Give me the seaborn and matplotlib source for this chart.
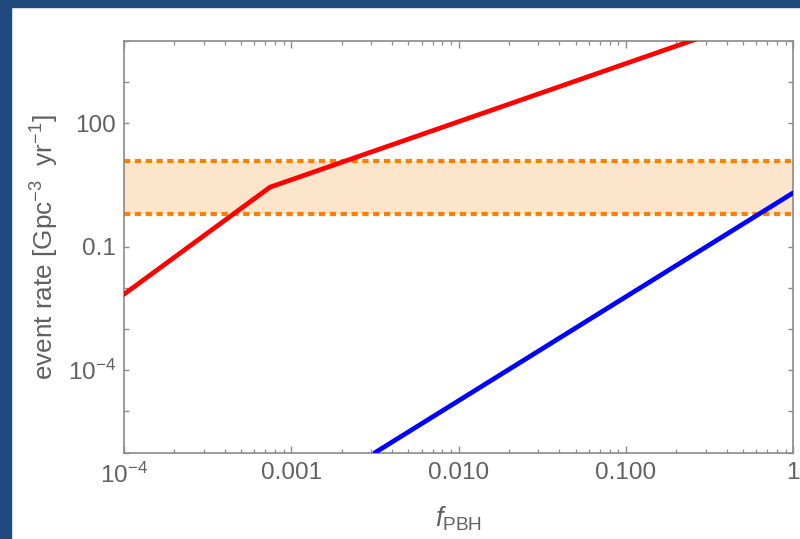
import numpy as np
import pandas as pd
import matplotlib
matplotlib.use("Agg")
import matplotlib.pyplot as plt
from matplotlib.patches import Rectangle
from matplotlib.ticker import FixedLocator, FixedFormatter, NullFormatter
import seaborn as sns

# ---- data ----
red_f = [1e-4, 7.47e-4, 1.0]
red_rate = [7.0e-3, 2.79, 7.2e4]
blue_f = [3.16e-3, 1.0]
blue_rate = [1e-6, 2.04]
band_low = 0.61
band_high = 12.2

xtick_vals = [1e-4, 1e-3, 1e-2, 1e-1, 1.0]
xtick_labels = [r"$10^{-4}$", "0.001", "0.010", "0.100", "1"]
ytick_label_vals = [1e-4, 0.1, 100]
ytick_labels = [r"$10^{-4}$", "0.1", "100"]

sns.set_theme(style="white")
plt.rcParams["font.family"] = ["Liberation Sans", "DejaVu Sans"]
plt.rcParams["mathtext.fontset"] = "custom"
plt.rcParams["mathtext.rm"] = "Liberation Sans"
plt.rcParams["mathtext.it"] = "Liberation Sans:italic"
plt.rcParams["mathtext.default"] = "regular"

TXT = "#606060"
AX = "#8a8a8a"

fig = plt.figure(figsize=(8.0, 5.39), dpi=100)
fig.patch.set_facecolor("white")
# border strips
fig.patches.append(Rectangle((0, 1 - 7 / 539), 1, 7 / 539, transform=fig.transFigure,
                             color="#1F497D", zorder=0))
fig.patches.append(Rectangle((0, 0), 11 / 800, 1, transform=fig.transFigure,
                             color="#1F497D", zorder=0))

ax = fig.add_axes([124 / 800, 1 - 452.7 / 539, (793.3 - 124) / 800, (452.7 - 40.7) / 539])
ax.set_xscale("log")
ax.set_yscale("log")
ax.set_xlim(1e-4, 1.0)
ax.set_ylim(1e-6, 1e4)

# band
ax.axhspan(band_low, band_high, color="#FDE5CC", lw=0, zorder=1)
for yv in (band_low, band_high):
    ax.axhline(yv, color="#FF8000", lw=3.0, ls=(0, (1.5, 1.1)),
               dash_capstyle="butt", zorder=2)

df = pd.concat([
    pd.DataFrame({"f": red_f, "rate": red_rate, "s": "red"}),
    pd.DataFrame({"f": blue_f, "rate": blue_rate, "s": "blue"}),
])
sns.lineplot(data=df, x="f", y="rate", hue="s", palette={"red": "#FF0000", "blue": "#0000FF"},
             lw=3.4, legend=False, ax=ax, zorder=3, sort=False, estimator=None)

# ticks
ax.xaxis.set_major_locator(FixedLocator(xtick_vals))
ax.xaxis.set_major_formatter(FixedFormatter(xtick_labels))
xminor = [m * 10.0 ** e for e in range(-4, 0) for m in range(2, 10)]
ax.xaxis.set_minor_locator(FixedLocator(xminor))
ax.xaxis.set_minor_formatter(NullFormatter())

ydec = [10.0 ** e for e in range(-6, 5)]
ax.yaxis.set_major_locator(FixedLocator(ydec))
ylab = []
for v in ydec:
    lab = ""
    for w, l in zip(ytick_label_vals, ytick_labels):
        if abs(np.log10(v) - np.log10(w)) < 1e-6:
            lab = l
    ylab.append(lab)
ax.yaxis.set_major_formatter(FixedFormatter(ylab))
ax.yaxis.set_minor_locator(FixedLocator([]))

ax.tick_params(axis="x", which="major", direction="in", length=5.0, width=1.0, color=AX,
               top=True, bottom=True, labelsize=17.5, labelcolor=TXT, pad=7)
ax.tick_params(axis="x", which="minor", direction="in", length=3.0, width=0.9, color=AX,
               top=True, bottom=True)
ax.tick_params(axis="y", which="major", direction="in", length=3.8, width=1.0, color=AX,
               left=True, right=True, labelsize=17.5, labelcolor=TXT, pad=6)

for sp in ax.spines.values():
    sp.set_color(AX)
    sp.set_linewidth(1.2)
    sp.set_visible(True)

ax.set_xlabel(r"$\mathit{f}_{\mathrm{PBH}}$", fontsize=19.5, color=TXT, labelpad=12)
ax.set_ylabel(r"event rate [Gpc$^{-3}$  yr$^{-1}$]", fontsize=18.8, color=TXT, labelpad=5)

fig.savefig("out.png", dpi=100, facecolor="white")
